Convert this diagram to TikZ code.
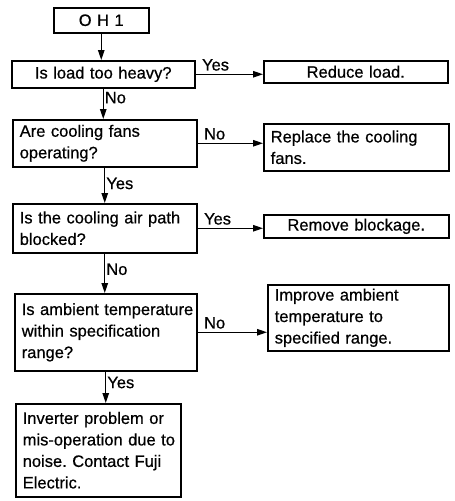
\documentclass[tikz,border=0pt]{standalone}
\usepackage{fontspec}
\setmainfont{Liberation Sans}[FakeBold=0.6]
\usetikzlibrary{arrows.meta}

\tikzset{
  qbox/.style={draw, line width=1.5pt, anchor=north west, inner xsep=7pt,
               inner ysep=3pt, align=left, font=\fontsize{16.5}{21.5}\selectfont,
               execute at begin node={\hyphenpenalty=10000 \exhyphenpenalty=10000}},
  flow/.style={line width=1.2pt, -{Triangle[length=10pt,width=6.5pt]}},
  lab/.style={font=\fontsize{16.5}{20}\selectfont, inner sep=1pt}
}

\begin{document}
\begin{tikzpicture}[x=1pt,y=-1pt]
    % Fix the size of the picture
    \useasboundingbox (0,0) rectangle (455,501);

    % Start
    \node[qbox, align=center, text width=81pt, minimum height=25pt] (oh) at (53,7) {O H 1};

    % Questions on the left
    \node[qbox, align=center, text width=169pt, minimum height=27pt] (q1) at (11,60) {Is~load~too~heavy?};
    \node[qbox, text width=170pt, minimum height=47pt] (q2) at (12,119) {Are~cooling~fans\\operating?};
    \node[qbox, text width=170pt, minimum height=49pt] (q3) at (12,203) {Is~the~cooling~air~path\\blocked?};
    \node[qbox, text width=168pt, minimum height=77pt] (q4) at (14,293) {Is~ambient~temperature\\within~specification\\range?};
    \node[qbox, text width=151pt, minimum height=93pt] (q5) at (15,403) {Inverter~problem~or\\mis-operation~due~to\\noise.~Contact~Fuji\\Electric.};

    % Remedies on the right
    \node[qbox, align=center, text width=170pt, minimum height=22pt] (a1) at (263,60) {Reduce~load.};
    \node[qbox, text width=171pt, minimum height=47pt] (a2) at (263,123) {Replace~the~cooling\\fans.};
    \node[qbox, align=center, text width=171pt, minimum height=23pt] (a3) at (263,214) {Remove~blockage.};
    \node[qbox, text width=167pt, minimum height=66pt] (a4) at (267,284) {Improve~ambient\\temperature~to\\specified~range.};

    % Main line down
    \draw[flow] (oh.south) -- (oh.south |- q1.north);
    \draw[flow] (q1.south) -- node[lab, right, pos=0.3] (n1) {No} (q1.south |- q2.north);
    \draw[flow] (q2.south) -- node[lab, right, pos=0.45] (y2) {Yes} (q2.south |- q3.north);
    \draw[flow] (q3.south) -- node[lab, right, pos=0.4] (n3) {No} (q3.south |- q4.north);
    \draw[flow] (q4.south) -- node[lab, right, pos=0.35] (y4) {Yes} (q4.south |- q5.north);

    % Branches to the right
    \draw[flow] (q1.east) -- node[lab, above right, pos=0, xshift=5pt, yshift=2pt] (y1) {Yes} (q1.east -| a1.west);
    \draw[flow] (q2.east) -- node[lab, above right, pos=0, xshift=5pt, yshift=2pt] (n2) {No} (q2.east -| a2.west);
    \draw[flow] (q3.east) -- node[lab, above right, pos=0, xshift=5pt, yshift=2pt] (y3) {Yes} (q3.east -| a3.west);
    \draw[flow] (q4.east) -- node[lab, above right, pos=0, xshift=5pt, yshift=2pt] (n4) {No} (q4.east -| a4.west);
\end{tikzpicture}
\end{document}
